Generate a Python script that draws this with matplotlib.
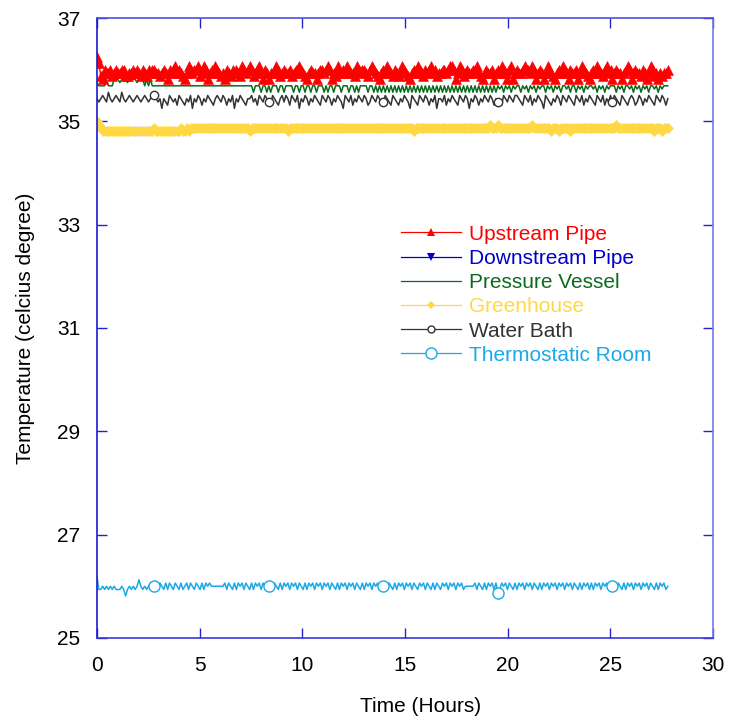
import numpy as np
import matplotlib.pyplot as plt
from matplotlib.lines import Line2D

plt.rcParams["font.family"] = ["Liberation Sans", "DejaVu Sans"]
plt.rcParams["font.size"] = 15

# Logged readings, one digit per sample, in 1/16 degree steps around each
# series' base value ("5" = base). Samples run evenly from 0 to 27.8 hours.
t_end = 27.8
step = 0.0625

up_base = 36.0
up_codes = ("97325445345445533445" "45435435455443454254" "56454324654556346524"
            "54654342543545436545" "65345642542445653454" "45345465432454424554"
            "56524365454654436545" "54356543245465435435" "65432454654354564534"
            "45545665246534544556" "43245445245465425624" "54456554652454246543"
            "24546542544524654324" "54654356452454424565" "24544354246534243445")

vessel_base = 35.6875
vessel_codes = ("6555575557" "77677767777677757575"
                "5555555555" "5555555555" "5555555555" "5555555555" "5555555555"
                "5535553553" "5355535535" "5553553553" "5535535553" "5355355535"
                "5535535355" "5535535353" "5353535353"
                "5353535353" "5353535353" "5353535353" "5353535353" "5353535353"
                "5453545354" "5535453545" "3545535453" "5453554535" "5354535455"
                "4535453545" "5535453554" "5354535453" "5545354555")

green_base = 34.875
green_codes = ("76544444444444444444" "44444444445444444444" "44445445455555555555"
               "55555555555555555555" "45555555555555555555" "45555555555555555555"
               "55555555555555555555" "55555555555555555555" "55555545555555555555"
               "55555555555555555555" "55555565556555555555" "55555555655555555545"
               "55455555455555555555" "55555555555565555555" "55555555555545554555")

bath_base = 35.4375
bath_codes = ("54565475456547545654" "56545654566545254365" "45365435462546535465"
              "43565465354625465435" "56453654654365435646" "53654625465354654365"
              "46535465426546354654" "65346546534654365435" "46542654365465354625"
              "54635465436546525465" "35465465354436546546" "65436546354654265435"
              "46536546543654635465" "43654635464654365435" "65346535465436546535")

room_base = 26.0
room_codes = ("84454545454445424545" "45754545645646546465" "46546456465465464656"
              "55555556465464656465" "46465646545646546465" "64656465464656465646"
              "56465464656465646546" "46564656465646546465" "64656465465646546465"
              "46564656465645555564" "65464656463465646546" "46564656465464656465"
              "64656465646546465646" "46564656465646546465" "64656465646546465645")

labels = ["Upstream Pipe", "Downstream Pipe", "Pressure Vessel",
          "Greenhouse", "Water Bath", "Thermostatic Room"]
colors = ["#ff0000", "#0000cc", "#0b6b1c", "#ffd843", "#333333", "#1aa9e6"]


def decode(base, codes):
    return base + (np.array([int(c) for c in codes]) - 5) * step


up = decode(up_base, up_codes)
vessel = decode(vessel_base, vessel_codes)
green = decode(green_base, green_codes)
bath = decode(bath_base, bath_codes)
room = decode(room_base, room_codes)
t = np.linspace(0, t_end, len(up_codes))
for arr in (vessel, green, bath, room):
    assert len(arr) == len(t), len(arr)

fig = plt.figure(figsize=(7.29, 7.2), dpi=100)
ax = fig.add_axes([0.133, 0.114, 0.845, 0.861])

marks = slice(30, None, 60)
ax.plot(t, room, color=colors[5], lw=1.1, marker="o", ms=8, mfc="white",
        mec=colors[5], mew=1, markevery=marks)
ax.plot(t, bath, color=colors[4], lw=1.1, marker="o", ms=6, mfc="white",
        mec=colors[4], mew=1, markevery=marks)
ax.plot(t, green, color=colors[3], lw=1.0, marker="D", ms=5, mew=0.4)
ax.plot(t, vessel, color=colors[2], lw=1.1)
ax.plot(t, up, color=colors[0], lw=1.0, marker="^", ms=7, mew=0.4)

handles = [
    Line2D([], [], color=colors[0], lw=0.9, marker="^", ms=6, mew=0),
    Line2D([], [], color=colors[1], lw=0.9, marker="v", ms=6, mew=0),
    Line2D([], [], color=colors[2], lw=0.9),
    Line2D([], [], color=colors[3], lw=0.9, marker="D", ms=4, mew=0),
    Line2D([], [], color=colors[4], lw=0.9, marker="o", ms=5, mfc="white", mec=colors[4]),
    Line2D([], [], color=colors[5], lw=0.9, marker="o", ms=8, mfc="white", mec=colors[5]),
]

ax.set_xlim(0, 30)
ax.set_ylim(25, 37)
ax.set_xticks(np.arange(0, 31, 5))
ax.set_yticks(np.arange(25, 38, 2))
ax.tick_params(direction="in", length=7, width=1, color="#2424cc",
               top=True, right=True, labelsize=15)
ax.tick_params(axis="x", pad=13)
ax.tick_params(axis="y", pad=12)

spine_colors = {"left": "#1a1ad0", "bottom": "#3a3ad8",
                "top": "#5050dd", "right": "#7878ea"}
for side, c in spine_colors.items():
    ax.spines[side].set_color(c)
    ax.spines[side].set_linewidth(1.2)

ax.set_xlabel("Time (Hours)", fontsize=15)
ax.xaxis.set_label_coords(0.526, -0.095)
ax.set_ylabel("Temperature (celcius degree)", fontsize=15, labelpad=16)

leg = ax.legend(handles, labels, loc="upper left", bbox_to_anchor=(0.48, 0.68),
                frameon=False, fontsize=15, handlelength=2.9, handletextpad=0.35,
                labelspacing=0.25, borderaxespad=0)
for text, c in zip(leg.get_texts(), colors):
    text.set_color(c)

fig.savefig("out.png", dpi=100)
